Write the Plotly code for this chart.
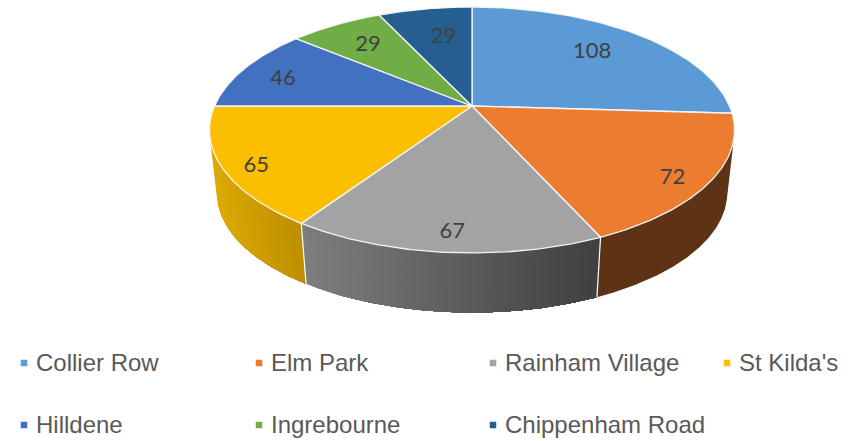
import numpy as np
import plotly.graph_objects as go

# ---- data
categories = ["Collier Row", "Elm Park", "Rainham Village", "St Kilda's",
              "Hilldene", "Ingrebourne", "Chippenham Road"]
values = [108, 72, 67, 65, 46, 29, 29]

# ---- styles
top_colors = ["#5B9AD4", "#EB7C30", "#A3A3A3", "#FCBE00", "#4371C2", "#70AD47", "#255E91"]
wall_left = {1: "#5E3214", 2: "#7E7E7E", 3: "#DDAB00"}   # colour at left of the wall
wall_right = {1: "#5E3214", 2: "#3F3F3F", 3: "#BD8E00"}  # colour at right of the wall
label_radius = [0.72, 0.86, 0.88, 0.87, 0.80, 0.72, 0.70]
label_shift_x = [-3, -1, 3, -1, -5, -2, 6]
label_shift_y = [0, 9, 1, 8, 4, 0, 3]

# ---- perspective geometry of the disc (in page pixels)
CX, CY = 472.0, 106.0
A, B, K = 257.5, 118.3, 0.195
WALL_Y0, WALL_S = 169.7, 0.972


def top_xy(theta, r=1.0):
    w = 1 + K * r * np.cos(theta)
    return CX + A * r * np.sin(theta) / w, CY - B * r * np.cos(theta) / w


def bottom_xy(theta):
    x, y = top_xy(theta)
    return CX + WALL_S * (x - CX), WALL_Y0 + WALL_S * (y - CY)


def mix(c1, c2, t):
    a = [int(c1[i:i + 2], 16) for i in (1, 3, 5)]
    b = [int(c2[i:i + 2], 16) for i in (1, 3, 5)]
    return "#%02x%02x%02x" % tuple(round(p + (q - p) * t) for p, q in zip(a, b))


def hull(xs, ys):
    """Convex outline, so a wall meets the disc along its tangent as in a real cylinder."""
    pts = sorted(set(zip(np.round(xs, 3).tolist(), np.round(ys, 3).tolist())))

    def half(points):
        out = []
        for p in points:
            while len(out) > 1 and ((out[-1][0] - out[-2][0]) * (p[1] - out[-2][1])
                                    - (out[-1][1] - out[-2][1]) * (p[0] - out[-2][0])) <= 0:
                out.pop()
            out.append(p)
        return out[:-1]

    ring = half(pts) + half(pts[::-1])
    ring.append(ring[0])
    return [p[0] for p in ring], [p[1] for p in ring]


total = sum(values)
edges = np.cumsum([0] + values) / total * 2 * np.pi

fig = go.Figure()

# Outer walls: each band covers the rest of its wall, so the shading has no seams.
for i in (1, 3, 2):
    t0, t1 = edges[i], edges[i + 1]
    steps = 1 if wall_left[i] == wall_right[i] else 60
    ts = np.linspace(t0, t1, 241)
    sx = top_xy(ts)[0]
    xa, xb = sx.min(), sx.max()
    for j in range(steps):
        cut = xa + (xb - xa) * j / steps
        keep = ts[sx >= cut - 1e-9]
        tx, ty = top_xy(keep)
        bx, by = bottom_xy(keep)
        px, py = hull(np.r_[tx, bx], np.r_[ty, by])
        fig.add_trace(go.Scatter(
            x=px, y=py, mode="lines", fill="toself",
            fillcolor=mix(wall_left[i], wall_right[i], (j + 0.5) / steps),
            line=dict(width=0), hoverinfo="skip", showlegend=False))

# White dividers between the walls
for e in (edges[2], edges[3]):
    tx, ty = top_xy(e)
    bx, by = bottom_xy(e)
    fig.add_trace(go.Scatter(x=[tx, bx], y=[ty, by], mode="lines",
                             line=dict(color="#FFFFFF", width=1.2),
                             hoverinfo="skip", showlegend=False))

# Top face of every slice
for i, name in enumerate(categories):
    ts = np.linspace(edges[i], edges[i + 1], 90)
    x, y = top_xy(ts)
    xs = [CX] + list(x) + [CX]
    ys = [CY] + list(y) + [CY]
    fig.add_trace(go.Scatter(
        x=xs, y=ys, mode="lines", fill="toself", fillcolor=top_colors[i],
        line=dict(color="#F4F4F4", width=1.3), name=name,
        text=f"{name}: {values[i]}", hoverinfo="text", showlegend=False))

# Value labels
mids = (edges[:-1] + edges[1:]) / 2
lx, ly = top_xy(mids, np.array(label_radius))
fig.add_trace(go.Scatter(
    x=lx + np.array(label_shift_x), y=ly + np.array(label_shift_y),
    mode="text", text=[str(v) for v in values],
    textposition="middle center",
    textfont=dict(family="Lato", size=22, color="#404040"),
    hoverinfo="skip", showlegend=False))

# Legend grid
col_x = [24, 259, 493, 727]
row_y = [363, 425]
for i, name in enumerate(categories):
    mx, my = col_x[i % 4], row_y[i // 4]
    fig.add_trace(go.Scatter(
        x=[mx], y=[my], mode="markers",
        marker=dict(symbol="square", size=6.5, color=top_colors[i], line=dict(width=0)),
        hoverinfo="skip", showlegend=False))
    fig.add_annotation(x=mx + 10, y=my - 1, text=name, showarrow=False,
                       xanchor="left", yanchor="middle", xref="x", yref="y",
                       font=dict(family="Liberation Sans", size=24, color="#595959"))

fig.update_layout(
    width=848, height=441, margin=dict(l=0, r=0, t=0, b=0),
    paper_bgcolor="#FFFFFF", plot_bgcolor="#FFFFFF", showlegend=False,
    xaxis=dict(range=[0, 848], visible=False, fixedrange=True),
    yaxis=dict(range=[441, 0], visible=False, fixedrange=True),
)
fig.write_html("out.html", config=dict(displayModeBar=False),
               post_script="document.body.style.margin='0';document.body.style.overflow='hidden';")
